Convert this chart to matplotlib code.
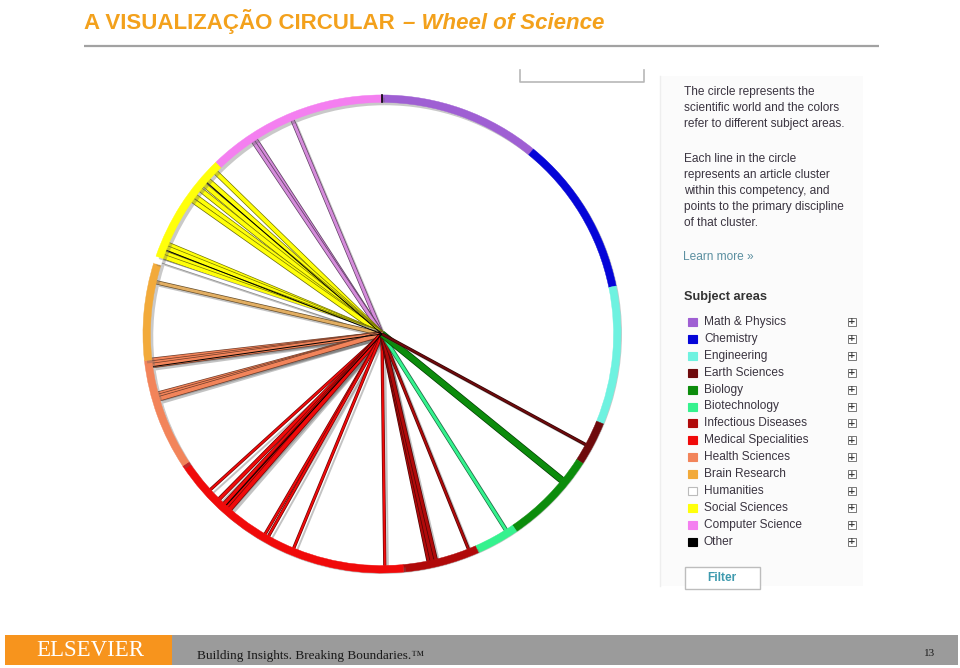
import numpy as np
import matplotlib

matplotlib.use("Agg")

import matplotlib.pyplot as plt
import matplotlib.patheffects as pe
from matplotlib.patches import Rectangle

# subject areas, clockwise from the top of the wheel
areas = [
    "Math & Physics", "Chemistry", "Engineering", "Earth Sciences", "Biology",
    "Biotechnology", "Infectious Diseases", "Medical Specialities", "Health Sciences",
    "Brain Research", "Humanities", "Social Sciences", "Computer Science", "Other",
]
area_colors = [
    "#9F5FD3", "#0505D8", "#6EF2E0", "#6E0A0C", "#0C8C0C",
    "#35F28E", "#B00A0A", "#F00A0A", "#F2845A",
    "#F2AA3A", "#FFFFFF", "#FFFF0A", "#F47FF0", "#000000",
]
# arc boundaries in degrees (clockwise from north), one start per area on the ring
arc_start = [0.0, 39.3, 78.4, 112.1, 122.8, 145.7, 156.2, 174.8, 236.5, 263.6, 287.3, 289.0, 316.0]
arc_end = arc_start[1:] + [360.0]

# article clusters: direction (deg) and area, with a relative size
spoke_angle = [337.3, 327.0, 326.2,
               314.2, 311.5, 310.0, 308.5, 306.4, 305.2, 292.7, 291.8, 290.4, 289.5,
               288.3, 282.9,
               263.5, 262.8, 262.2, 255.0, 254.4, 253.8,
               227.8, 224.6, 222.8, 221.8, 221.0, 210.3, 209.3, 202.4, 179.3,
               168.3, 167.5, 166.6, 158.1,
               147.7, 129.1, 118.5,
               310.8, 291.2, 261.9, 222.3]
spoke_area = (["Computer Science"] * 3 + ["Social Sciences"] * 10 + ["Humanities", "Brain Research"]
              + ["Health Sciences"] * 6 + ["Medical Specialities"] * 9
              + ["Infectious Diseases"] * 4 + ["Biotechnology", "Biology", "Earth Sciences"]
              + ["Other"] * 4)
spoke_size = [2, 2, 2,
              3, 3, 3, 3, 3, 3, 3, 3, 3, 3,
              2, 2,
              3, 3, 3, 3, 3, 3,
              1, 2, 3, 3, 3, 1, 1, 1, 1,
              3, 3, 2, 1,
              2, 5, 1,
              0, 0, 0, 0]

intro_lines = ["The circle represents the", "scientific world and the colors",
               "refer to different subject areas."]
detail_lines = ["Each line in the circle", "represents an article cluster",
                "within this competency, and", "points to the primary discipline",
                "of that cluster."]

spoke_tint = {"Computer Science": "#D58CDB", "Brain Research": "#E2AE62",
              "Humanities": "#FFFFFF"}


def darker(hex_color, f=0.45):
    rgb = np.array(matplotlib.colors.to_rgb(hex_color))
    return tuple(rgb * f)


fig = plt.figure(figsize=(9.6, 6.68), dpi=100)

# slide decoration in pixel space
bg = fig.add_axes([0, 0, 1, 1])
bg.set_xlim(0, 960)
bg.set_ylim(668, 0)
bg.axis("off")

bg.text(84, 29, "A VISUALIZAÇÃO CIRCULAR", fontsize=16, fontweight="bold",
        color="#F3A11C", family="Liberation Sans", va="baseline")
bg.text(403, 29, "– Wheel of Science", fontsize=16, fontweight="bold", style="italic",
        color="#F3A11C", family="Liberation Sans", va="baseline")
bg.plot([84, 879], [46, 46], color="#A2A2A2", lw=1.6, solid_capstyle="butt")

# footer bar
bg.add_patch(Rectangle((5, 635), 167, 30, color="#F7941D", lw=0))
bg.add_patch(Rectangle((172, 635), 786, 30, color="#9B9B9B", lw=0))
bg.text(90, 651, "ELSEVIER", color="white", fontsize=16.5, family="Liberation Serif",
        ha="center", va="center")
bg.text(197, 656, "Building Insights. Breaking Boundaries.™", color="#1A1A1A", fontsize=9.5,
        family="Liberation Serif", va="center")
bg.text(935, 653, "13", color="#1A1A1A", fontsize=8, family="Liberation Serif",
        ha="right", va="center")

# side panel
bg.add_patch(Rectangle((660, 76), 203, 510, facecolor="#FBFBFB", edgecolor="none"))
bg.plot([660, 660], [76, 586], color="#EEEEEE", lw=1)
bg.plot([520, 520, 644, 644], [70, 82, 82, 70], color="#B8B8B8", lw=1.2)

panel_font = dict(family="Liberation Sans", fontsize=8.6, color="#3A3440", va="center")
for i, line in enumerate(intro_lines):
    bg.text(684, 92 + i * 16, line, **panel_font)
for i, line in enumerate(detail_lines):
    bg.text(684, 159 + i * 16, line, **panel_font)
bg.text(683, 257, "Learn more »", family="Liberation Sans", fontsize=8.6,
        color="#5B8FA0", va="center")
bg.text(684, 297, "Subject areas", family="Liberation Sans", fontsize=9.2,
        fontweight="bold", color="#333333", va="center")

for i, (name, col) in enumerate(zip(areas, area_colors)):
    y = 322 + i * 16.9
    bg.add_patch(Rectangle((688, y - 4), 9, 8, facecolor=col,
                           edgecolor="#BBBBBB" if name == "Humanities" else col, lw=0.8))
    bg.text(704, y, name, family="Liberation Sans", fontsize=8.6, color="#3A3440", va="center")
    bg.add_patch(Rectangle((848, y - 4), 8, 8, facecolor="white", edgecolor="#777777", lw=0.7))
    bg.text(852, y, "+", fontsize=6.5, color="#333333", ha="center", va="center",
            fontweight="bold")

bg.add_patch(Rectangle((685, 567), 75, 22, facecolor="white", edgecolor="#BDBDBD", lw=1))
bg.text(722, 578, "Filter", family="Liberation Sans", fontsize=8.6, fontweight="bold",
        color="#3E9AAE", ha="center", va="center")

# the wheel
ax = fig.add_axes([142 / 960, (668 - 574) / 668, 480 / 960, 480 / 668], projection="polar")
ax.set_theta_zero_location("N")
ax.set_theta_direction(-1)
ax.set_ylim(0, 1.02)
ax.axis("off")

shadow = pe.SimpleLineShadow(offset=(2.2, -2.2), shadow_color="#555555", alpha=0.35)
for ang, area, size in zip(spoke_angle, spoke_area, spoke_size):
    base = area_colors[areas.index(area)]
    col = spoke_tint.get(area, base)
    lw = 0.7 + 0.7 * size
    edge = "#8A8A8A" if area == "Humanities" else darker(col)
    th = np.deg2rad(ang)
    effects = [shadow, pe.Stroke(linewidth=lw + 1.0, foreground=edge), pe.Normal()]
    if size == 0:
        effects = [pe.Normal()]
    ax.plot([th, th], [0, 0.985], color=col, lw=lw, solid_capstyle="butt", zorder=2,
            path_effects=effects)

ring_shadow = pe.SimplePatchShadow(offset=(2, -2), shadow_rgbFace="#666666", alpha=0.35)
for a0, a1, name in zip(arc_start, arc_end, areas):
    col = area_colors[areas.index(name)]
    t0, t1 = np.deg2rad(a0), np.deg2rad(a1)
    ax.bar((t0 + t1) / 2, 0.032, width=t1 - t0, bottom=0.984, color=col,
           edgecolor=col, lw=0.3, zorder=3, path_effects=[ring_shadow, pe.Normal()])
# thin dark mark where the ring starts
ax.plot([0, 0], [0.984, 1.016], color="black", lw=1.2, zorder=4)

fig.savefig("out.png", dpi=100)
